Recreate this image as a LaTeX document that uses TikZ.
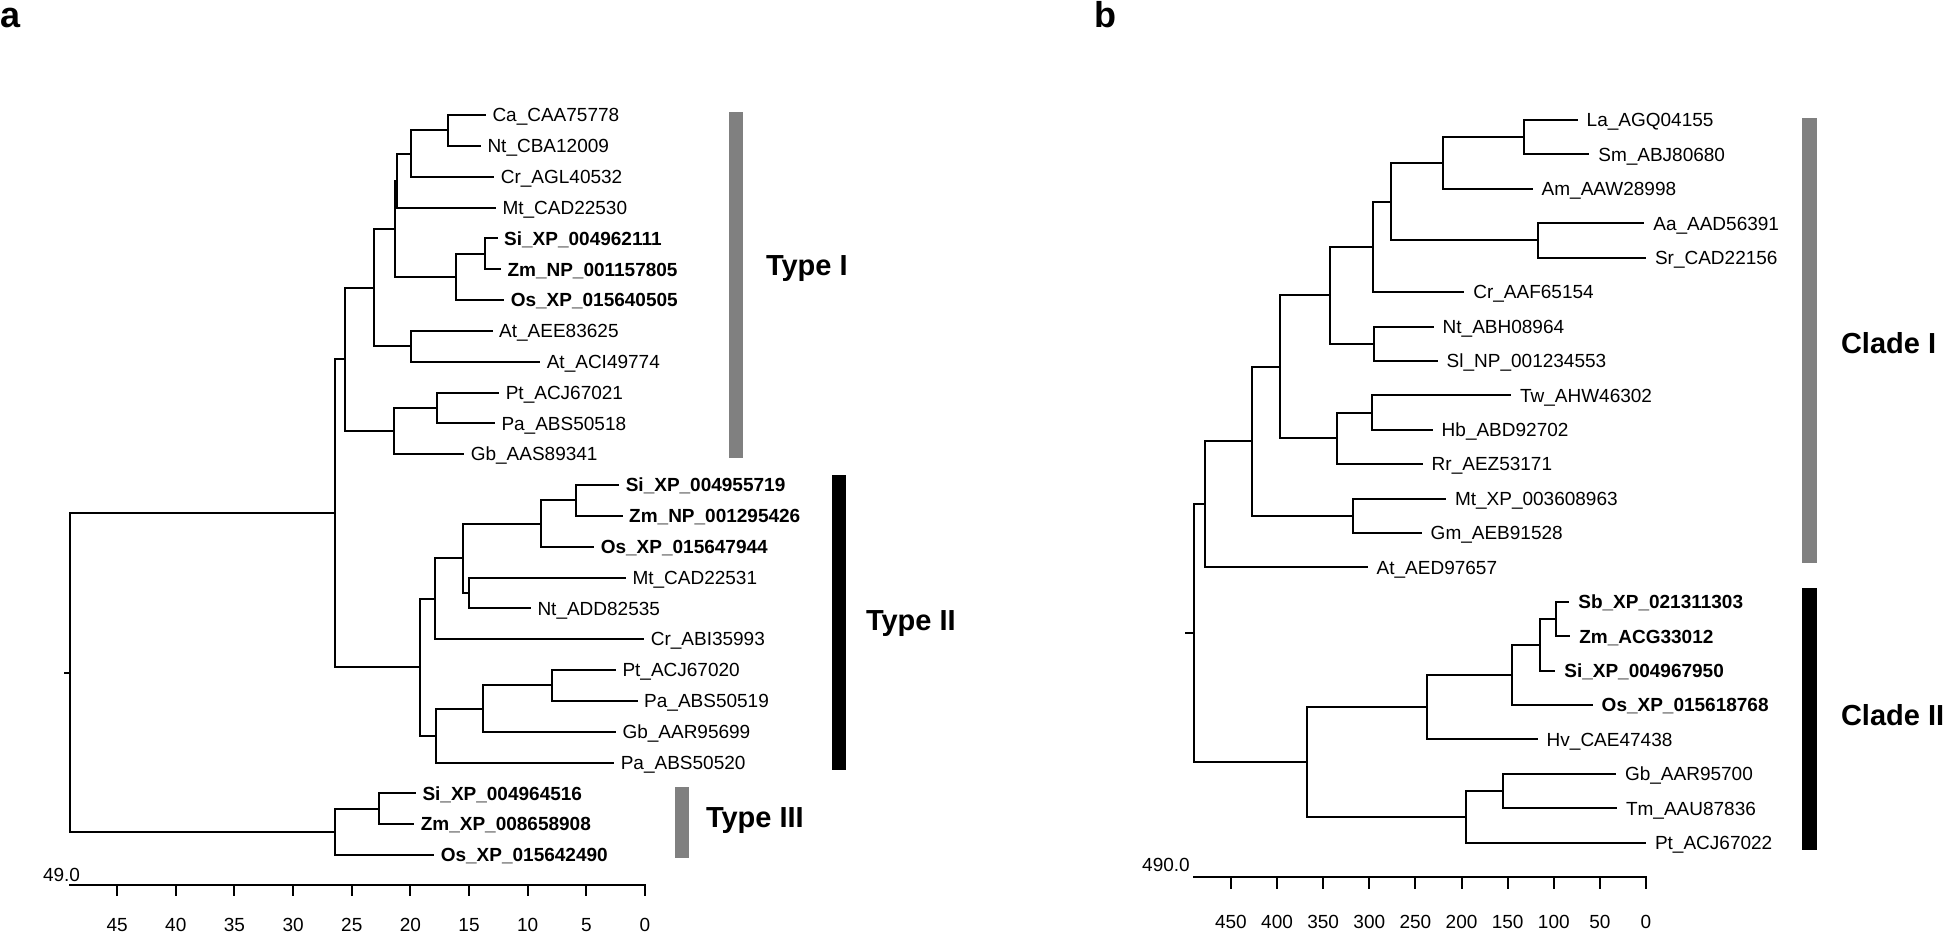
\documentclass[tikz,border=0pt]{standalone}
\usepackage{fontspec}
\setmainfont{Liberation Sans}

\begin{document}
\begin{tikzpicture}[x=0.5pt, y=-0.5pt, line width=1pt, line cap=rect,
    leafa/.style={anchor=west, inner sep=0pt, outer xsep=3.75pt, outer ysep=0pt, text height=6.8pt, text depth=0pt, font=\fontsize{9.5}{11}\selectfont},
    leafb/.style={leafa, outer xsep=5pt},
    hl/.style={font=\fontsize{9.5}{11}\selectfont\bfseries},
    clade/.style={anchor=west, inner sep=0pt, text height=10.4pt, text depth=0pt, font=\fontsize{14.5}{16}\selectfont\bfseries},
    panel/.style={anchor=base west, inner sep=0pt, font=\fontsize{18}{20}\selectfont\bfseries},
    ticklab/.style={inner sep=0pt, font=\fontsize{9.5}{11}\selectfont}]
    \useasboundingbox (0,0) rectangle (1946,933);

    % panel a
    \node[panel] (pa) at (0,27) {a};
    \node[leafa] (ca) at (485,115.0) {Ca\_CAA75778};
    \node[leafa] (nt1) at (480,145.8) {Nt\_CBA12009};
    \node[leafa] (cr1) at (493.3,176.7) {Cr\_AGL40532};
    \node[leafa] (mt1) at (495,207.5) {Mt\_CAD22530};
    \node[leafa, hl] (si1) at (496.7,238.3) {Si\_XP\_004962111};
    \node[leafa, hl] (zm1) at (500,269.2) {Zm\_NP\_001157805};
    \node[leafa, hl] (os1) at (503.3,300.0) {Os\_XP\_015640505};
    \node[leafa] (at1) at (491.7,330.8) {At\_AEE83625};
    \node[leafa] (at2) at (539.3,361.6) {At\_ACI49774};
    \node[leafa] (pt1) at (498.3,392.5) {Pt\_ACJ67021};
    \node[leafa] (pa1) at (494,423.3) {Pa\_ABS50518};
    \node[leafa] (gb1) at (463.3,454.1) {Gb\_AAS89341};
    \node[leafa, hl] (si2) at (618.3,485.0) {Si\_XP\_004955719};
    \node[leafa, hl] (zm2) at (621.7,515.8) {Zm\_NP\_001295426};
    \node[leafa, hl] (os2) at (593.3,546.6) {Os\_XP\_015647944};
    \node[leafa] (mt2) at (625,577.5) {Mt\_CAD22531};
    \node[leafa] (nt2) at (530,608.3) {Nt\_ADD82535};
    \node[leafa] (cr2) at (643.3,639.1) {Cr\_ABI35993};
    \node[leafa] (pt2) at (615,670.0) {Pt\_ACJ67020};
    \node[leafa] (pa2) at (636.7,700.8) {Pa\_ABS50519};
    \node[leafa] (gb2) at (615,731.6) {Gb\_AAR95699};
    \node[leafa] (pa3) at (613.3,762.5) {Pa\_ABS50520};
    \node[leafa, hl] (si3) at (415,793.3) {Si\_XP\_004964516};
    \node[leafa, hl] (zm3) at (413.3,824.1) {Zm\_XP\_008658908};
    \node[leafa, hl] (os3) at (433.3,855.0) {Os\_XP\_015642490};

    \coordinate (a1) at (448.3,130.4);
    \coordinate (a2) at (410.7,153.6);
    \coordinate (a3) at (396.7,180.5);
    \coordinate (a4) at (485,253.8);
    \coordinate (a5) at (455.7,276.9);
    \coordinate (a6) at (395,228.7);
    \coordinate (a7) at (410.7,346.2);
    \coordinate (a8) at (374,287.5);
    \coordinate (a9) at (437.3,407.9);
    \coordinate (a10) at (394.3,431.0);
    \coordinate (a11) at (345,359.2);
    \coordinate (b1) at (575.7,500.4);
    \coordinate (b2) at (540.7,523.5);
    \coordinate (b3) at (469.3,592.9);
    \coordinate (b4) at (463.3,558.2);
    \coordinate (b5) at (435,598.7);
    \coordinate (b6) at (552.3,685.4);
    \coordinate (b7) at (482.7,708.5);
    \coordinate (b8) at (436,735.5);
    \coordinate (b9) at (420,667.1);
    \coordinate (c0) at (335,513.2);
    \coordinate (c1) at (379.3,808.7);
    \coordinate (c2) at (335,831.9);
    \coordinate (rootA) at (70,672.5);
    \coordinate (stubA) at (65,672.5);

    \draw (ca) -| (a1) |- (nt1);
    \draw (a1) -| (a2) |- (cr1);
    \draw (a2) -| (a3) |- (mt1);
    \draw (si1) -| (a4) |- (zm1);
    \draw (a4) -| (a5) |- (os1);
    \draw (a3) -| (a6) |- (a5);
    \draw (at1) -| (a7) |- (at2);
    \draw (a6) -| (a8) |- (a7);
    \draw (pt1) -| (a9) |- (pa1);
    \draw (a9) -| (a10) |- (gb1);
    \draw (a8) -| (a11) |- (a10);
    \draw (si2) -| (b1) |- (zm2);
    \draw (b1) -| (b2) |- (os2);
    \draw (mt2) -| (b3) |- (nt2);
    \draw (b2) -| (b4) |- (b3);
    \draw (b4) -| (b5) |- (cr2);
    \draw (pt2) -| (b6) |- (pa2);
    \draw (b6) -| (b7) |- (gb2);
    \draw (b7) -| (b8) |- (pa3);
    \draw (b5) -| (b9) |- (b8);
    \draw (a11) -| (c0) |- (b9);
    \draw (si3) -| (c1) |- (zm3);
    \draw (c1) -| (c2) |- (os3);
    \draw (c0) -| (rootA) |- (c2);
    \draw (stubA) -- (rootA);

    \fill[gray] (729.3,111.7) rectangle (743.3,458.3);
    \fill[black] (831.7,475) rectangle (845.7,769.5);
    \fill[gray] (675,786.7) rectangle (689.3,858.3);
    \node[clade] (typeI) at (765,265) {Type I};
    \node[clade] (typeII) at (865,620.5) {Type II};
    \node[clade] (typeIII) at (705,816.7) {Type III};

    % scale bar a
    \coordinate (axa0) at (70,885);
    \coordinate (axa1) at (645,885);
    \draw (axa0) -- (axa1);
    \node[ticklab] (maxa) at (61.5,875) {49.0};
    \foreach \d in {0,5,...,45} {
      \draw ({645-11.73*\d},885) -- ++(0,10);
      \node[ticklab] at ({645-11.73*\d},925) {\d};
    }

    % panel b
    \node[panel] (pb) at (1093,27) {b};
    \node[leafb] (la) at (1576.7,120.0) {La\_AGQ04155};
    \node[leafb] (sm) at (1588.3,154.4) {Sm\_ABJ80680};
    \node[leafb] (am) at (1531.7,188.8) {Am\_AAW28998};
    \node[leafb] (aa) at (1643.3,223.2) {Aa\_AAD56391};
    \node[leafb] (sr) at (1645,257.6) {Sr\_CAD22156};
    \node[leafb] (crb) at (1463.3,292.1) {Cr\_AAF65154};
    \node[leafb] (ntb) at (1432.7,326.5) {Nt\_ABH08964};
    \node[leafb] (sl) at (1436.7,360.9) {Sl\_NP\_001234553};
    \node[leafb] (tw) at (1510,395.3) {Tw\_AHW46302};
    \node[leafb] (hb) at (1431.7,429.7) {Hb\_ABD92702};
    \node[leafb] (rr) at (1421.7,464.1) {Rr\_AEZ53171};
    \node[leafb] (mtb) at (1445,498.5) {Mt\_XP\_003608963};
    \node[leafb] (gm) at (1420.7,532.9) {Gm\_AEB91528};
    \node[leafb] (at) at (1366.7,567.3) {At\_AED97657};
    \node[leafb, hl] (sb) at (1568.3,601.7) {Sb\_XP\_021311303};
    \node[leafb, hl] (zmb) at (1569.3,636.2) {Zm\_ACG33012};
    \node[leafb, hl] (sib) at (1554.3,670.6) {Si\_XP\_004967950};
    \node[leafb, hl] (osb) at (1591.7,705.0) {Os\_XP\_015618768};
    \node[leafb] (hv) at (1536.7,739.4) {Hv\_CAE47438};
    \node[leafb] (gbb) at (1615,773.8) {Gb\_AAR95700};
    \node[leafb] (tm) at (1616,808.2) {Tm\_AAU87836};
    \node[leafb] (ptb) at (1645,842.6) {Pt\_ACJ67022};

    \coordinate (d1) at (1524.3,137.2);
    \coordinate (d2) at (1443.3,163.0);
    \coordinate (d3) at (1538.3,240.4);
    \coordinate (d4) at (1390.7,201.7);
    \coordinate (d5) at (1373.3,246.9);
    \coordinate (d6) at (1374.3,343.7);
    \coordinate (d7) at (1330,295.3);
    \coordinate (d8) at (1371.7,412.5);
    \coordinate (d9) at (1337.3,438.3);
    \coordinate (d10) at (1280,366.8);
    \coordinate (d11) at (1353.3,515.7);
    \coordinate (d12) at (1251.7,441.3);
    \coordinate (d13) at (1205,504.3);
    \coordinate (e1) at (1555.7,619.0);
    \coordinate (e2) at (1540,644.8);
    \coordinate (e3) at (1512.3,674.9);
    \coordinate (e4) at (1426.7,707.2);
    \coordinate (e5) at (1502.7,791.0);
    \coordinate (e6) at (1465.7,816.8);
    \coordinate (e7) at (1306.7,762.0);
    \coordinate (rootB) at (1194,633.2);
    \coordinate (stubB) at (1186,633.2);

    \draw (la) -| (d1) |- (sm);
    \draw (d1) -| (d2) |- (am);
    \draw (aa) -| (d3) |- (sr);
    \draw (d2) -| (d4) |- (d3);
    \draw (d4) -| (d5) |- (crb);
    \draw (ntb) -| (d6) |- (sl);
    \draw (d5) -| (d7) |- (d6);
    \draw (tw) -| (d8) |- (hb);
    \draw (d8) -| (d9) |- (rr);
    \draw (d7) -| (d10) |- (d9);
    \draw (mtb) -| (d11) |- (gm);
    \draw (d10) -| (d12) |- (d11);
    \draw (d12) -| (d13) |- (at);
    \draw (sb) -| (e1) |- (zmb);
    \draw (e1) -| (e2) |- (sib);
    \draw (e2) -| (e3) |- (osb);
    \draw (e3) -| (e4) |- (hv);
    \draw (gbb) -| (e5) |- (tm);
    \draw (e5) -| (e6) |- (ptb);
    \draw (e4) -| (e7) |- (e6);
    \draw (d13) -| (rootB) |- (e7);
    \draw (stubB) -- (rootB);

    \fill[gray] (1802,118.3) rectangle (1817,563.3);
    \fill[black] (1802,588.3) rectangle (1817,850);
    \node[clade] (cladeI) at (1840,343) {Clade I};
    \node[clade] (cladeII) at (1840,715) {Clade II};

    % scale bar b
    \coordinate (axb0) at (1194,876.7);
    \coordinate (axb1) at (1646,876.7);
    \draw (axb0) -- (axb1);
    \node[ticklab] (maxb) at (1166,865) {490.0};
    \foreach \d in {0,50,...,450} {
      \draw ({1646-0.9224*\d},876.7) -- ++(0,11.6);
      \node[ticklab] at ({1646-0.9224*\d},921.7) {\d};
    }
\end{tikzpicture}
\end{document}
